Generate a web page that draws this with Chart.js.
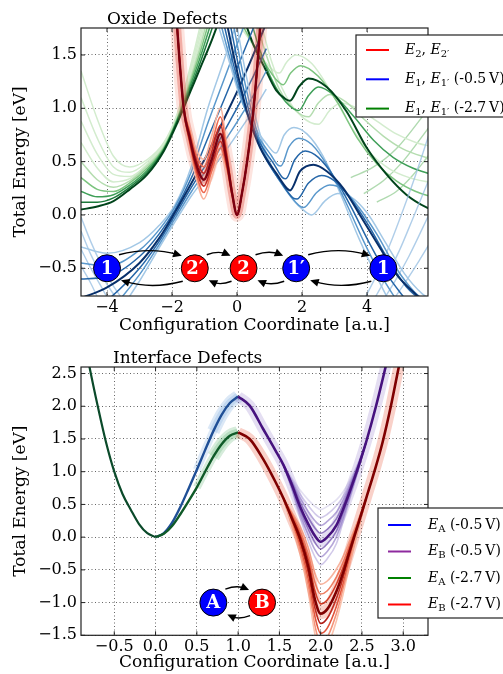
<!DOCTYPE html>
<html>
<head>
<meta charset="utf-8">
<script src="https://cdn.jsdelivr.net/npm/chart.js@4.4.1/dist/chart.umd.min.js"></script>
<style>
  html, body { margin: 0; padding: 0; background: #fff; }
  canvas { display: block; }
</style>
</head>
<body>
<canvas id="oxideChart" width="503" height="337"></canvas>
<canvas id="interfaceChart" width="503" height="337"></canvas>
<script>
// ---------------------------------------------------------------
// DATA: OXIDE DEFECTS (top panel)
// ---------------------------------------------------------------

const oxideXTicks = [-4, -2, 0, 2, 4];
const oxideYTicks = [-0.5, 0.0, 0.5, 1.0, 1.5];

// E2 / E2' double well, one row per curve (lightest .. darkest .. lightest)
const redX = [-2.0, -1.84, -1.64, -1.46, -1.28, -1.02, -0.78, -0.51, -0.31, -0.15, 0, 0.15, 0.31, 0.51, 0.71, 0.82];
const redCurves = [
  [2.5, 1.75, 0.97, 0.66, 0.38, 0.15, 0.35, 0.57, 0.40, 0.17, 0, 0.2, 0.5, 1.0, 1.75, 2.3],
  [2.5, 1.75, 0.98, 0.68, 0.42, 0.21, 0.41, 0.63, 0.43, 0.18, 0, 0.2, 0.5, 1.0, 1.75, 2.3],
  [2.5, 1.75, 0.99, 0.70, 0.46, 0.27, 0.46, 0.69, 0.46, 0.19, 0, 0.2, 0.5, 1.0, 1.75, 2.3],
  [2.5, 1.75, 1.00, 0.73, 0.50, 0.33, 0.52, 0.76, 0.50, 0.20, 0, 0.2, 0.5, 1.0, 1.75, 2.3],
  [2.5, 1.75, 1.01, 0.76, 0.54, 0.39, 0.59, 0.84, 0.54, 0.21, 0, 0.2, 0.5, 1.0, 1.75, 2.3],
  [2.5, 1.75, 1.02, 0.79, 0.58, 0.45, 0.66, 0.92, 0.58, 0.22, 0, 0.2, 0.5, 1.0, 1.75, 2.3],
  [2.5, 1.75, 1.03, 0.82, 0.63, 0.52, 0.74, 1.00, 0.62, 0.23, 0, 0.2, 0.5, 1.0, 1.75, 2.3]
];

// E1 (-0.5 V): rising branches on the left
const blueRiseX = [-4.8, -4.0, -3.0, -2.4, -1.9, -1.4, -0.9, -0.4, 0.1, 0.5, 0.9];
const blueRiseCurves = [
  [-0.30, -0.36, -0.26, -0.10, 0.10, 0.46, 1.00, 1.45, 1.90, 2.20, 2.50],
  [-0.45, -0.48, -0.33, -0.14, 0.08, 0.41, 0.86, 1.27, 1.68, 2.00, 2.30],
  [-0.60, -0.58, -0.39, -0.18, 0.05, 0.35, 0.72, 1.08, 1.45, 1.75, 2.05],
  [-0.78, -0.68, -0.45, -0.22, 0.03, 0.30, 0.58, 0.90, 1.22, 1.50, 1.80],
  [-0.95, -0.80, -0.50, -0.25, 0.00, 0.26, 0.50, 0.78, 1.06, 1.30, 1.56],
  [-1.10, -0.92, -0.56, -0.28, -0.03, 0.22, 0.44, 0.68, 0.92, 1.12, 1.35],
  [-1.25, -1.05, -0.62, -0.31, -0.06, 0.18, 0.38, 0.58, 0.80, 0.98, 1.18]
];

// E1' (-0.5 V): falling branches with the 1' well, [x, y] pairs
const blueFallCurves = [
  [[-0.65, 1.85], [-0.3, 1.5], [0.1, 1.1], [0.55, 0.82], [0.95, 0.65], [1.12, 0.59], [1.2, 0.58], [1.45, 0.75], [1.75, 0.82], [2.15, 0.76], [2.65, 0.55], [3.15, 0.22], [3.75, -0.22], [4.25, -0.55], [4.75, -0.85]],
  [[-0.55, 1.85], [-0.2, 1.45], [0.2, 1.03], [0.62, 0.75], [1.05, 0.56], [1.25, 0.47], [1.35, 0.46], [1.6, 0.64], [1.9, 0.72], [2.3, 0.66], [2.8, 0.45], [3.3, 0.15], [3.9, -0.25], [4.4, -0.55], [4.95, -0.82]],
  [[-0.45, 1.85], [-0.1, 1.4], [0.3, 0.97], [0.68, 0.69], [1.15, 0.47], [1.4, 0.35], [1.5, 0.34], [1.78, 0.52], [2.1, 0.6], [2.5, 0.54], [3.0, 0.35], [3.5, 0.08], [4.1, -0.28], [4.6, -0.55], [5.2, -0.8]],
  [[-0.35, 1.85], [0.0, 1.35], [0.35, 0.92], [0.71, 0.63], [1.23, 0.38], [1.53, 0.25], [1.63, 0.23], [1.94, 0.41], [2.35, 0.47], [2.76, 0.41], [3.27, 0.25], [3.78, 0.0], [4.4, -0.31], [4.91, -0.56], [5.52, -0.75], [5.9, -0.85]],
  [[-0.25, 1.85], [0.1, 1.32], [0.45, 0.88], [0.8, 0.58], [1.35, 0.31], [1.72, 0.16], [1.85, 0.15], [2.2, 0.3], [2.6, 0.37], [3.0, 0.32], [3.5, 0.15], [4.05, -0.1], [4.65, -0.42], [5.2, -0.67], [5.85, -0.85]],
  [[-0.15, 1.85], [0.2, 1.3], [0.55, 0.85], [0.9, 0.54], [1.5, 0.24], [1.9, 0.09], [2.05, 0.07], [2.45, 0.21], [2.85, 0.28], [3.25, 0.24], [3.75, 0.07], [4.3, -0.18], [4.9, -0.5], [5.45, -0.72], [6.0, -0.85]],
  [[-0.05, 1.85], [0.3, 1.28], [0.65, 0.82], [1.0, 0.5], [1.65, 0.17], [2.15, 0.02], [2.3, 0.0], [2.7, 0.13], [3.1, 0.2], [3.5, 0.17], [4.0, 0.02], [4.55, -0.25], [5.15, -0.55], [5.7, -0.74], [6.0, -0.8]]
];

// faint walls of the well "1" at the plot edges
const blueWallsLeft = [
  [[-4.8, -0.02], [-4.5, -0.25], [-4.2, -0.45], [-3.9, -0.62], [-3.5, -0.8]],
  [[-4.8, -0.15], [-4.5, -0.37], [-4.2, -0.55], [-3.85, -0.72], [-3.65, -0.8]],
  [[-4.8, -0.32], [-4.5, -0.5], [-4.2, -0.66], [-3.95, -0.8]],
  [[-4.8, -0.48], [-4.5, -0.64], [-4.25, -0.8]]
];
const blueWallsRight = [
  [[3.9, -0.8], [4.3, -0.56], [4.7, -0.28], [5.1, 0.04], [5.5, 0.38], [5.9, 0.75]],
  [[4.2, -0.8], [4.6, -0.58], [5.0, -0.33], [5.4, -0.04], [5.9, 0.33]],
  [[4.5, -0.8], [4.9, -0.6], [5.3, -0.38], [5.9, 0.0]],
  [[4.8, -0.8], [5.2, -0.62], [5.6, -0.43], [5.9, -0.28]]
];

// E1 (-2.7 V): rising branches on the left (darkest first)
const greenRiseX = [-4.8, -4.3, -3.8, -3.3, -2.76, -2.25, -1.84, -1.43, -1.13, -0.8, -0.4];
const greenRiseCurves = [
  [0.05, 0.08, 0.13, 0.24, 0.38, 0.60, 0.86, 1.16, 1.38, 1.62, 1.95],
  [0.12, 0.12, 0.16, 0.26, 0.40, 0.61, 0.88, 1.19, 1.43, 1.72, 2.10],
  [0.22, 0.17, 0.19, 0.28, 0.42, 0.62, 0.89, 1.22, 1.48, 1.80, 2.20],
  [0.35, 0.24, 0.22, 0.30, 0.44, 0.63, 0.90, 1.25, 1.53, 1.88, 2.30],
  [0.50, 0.33, 0.26, 0.32, 0.46, 0.64, 0.91, 1.28, 1.58, 1.96, 2.40],
  [0.68, 0.44, 0.31, 0.34, 0.47, 0.65, 0.92, 1.31, 1.63, 2.04, 2.50],
  [0.88, 0.57, 0.38, 0.36, 0.48, 0.66, 0.93, 1.34, 1.68, 2.10, 2.60],
  [1.10, 0.72, 0.45, 0.40, 0.50, 0.67, 0.94, 1.37, 1.73, 2.20, 2.70],
  [1.35, 0.90, 0.55, 0.45, 0.52, 0.68, 0.95, 1.40, 1.78, 2.25, 2.80]
];

// E1' (-2.7 V): falling branches (darkest first)
const greenFallCurves = [
  [[0.2, 1.85], [0.5, 1.6], [0.85, 1.38], [1.2, 1.17], [1.48, 1.09], [1.63, 1.07], [1.9, 1.2], [2.2, 1.28], [2.76, 1.2], [3.37, 0.97], [3.99, 0.63], [4.6, 0.38], [5.21, 0.19], [5.83, 0.07], [6.0, 0.05]],
  [[0.4, 1.85], [0.7, 1.55], [1.1, 1.25], [1.5, 1.06], [1.9, 0.98], [2.2, 1.12], [2.5, 1.2], [3.0, 1.12], [3.6, 0.92], [4.2, 0.7], [4.8, 0.54], [5.4, 0.44], [6.0, 0.38]],
  [[0.05, 1.85], [0.4, 1.65], [0.8, 1.45], [1.2, 1.27], [1.42, 1.22], [1.65, 1.33], [1.95, 1.4], [2.5, 1.3], [3.1, 1.05], [3.7, 0.72], [4.3, 0.48], [4.9, 0.32], [5.5, 0.22], [6.0, 0.17]],
  [[0.55, 1.85], [0.9, 1.5], [1.3, 1.18], [1.8, 0.98], [2.2, 0.92], [2.5, 1.05], [2.85, 1.13], [3.35, 1.06], [3.9, 0.9], [4.5, 0.74], [5.1, 0.62], [6.0, 0.52]],
  [[-0.1, 1.85], [0.3, 1.68], [0.7, 1.5], [1.1, 1.36], [1.3, 1.33], [1.52, 1.43], [1.8, 1.5], [2.3, 1.42], [2.9, 1.15], [3.5, 0.83], [4.1, 0.58], [4.7, 0.43], [5.3, 0.35], [6.0, 0.3]],
  [[0.7, 1.85], [1.05, 1.45], [1.5, 1.12], [2.0, 0.92], [2.5, 0.85], [2.85, 0.98], [3.2, 1.05], [3.7, 1.0], [4.3, 0.88], [4.9, 0.76], [5.5, 0.68], [6.0, 0.64]]
];
const greenWallsRight = [
  [[3.5, 0.35], [4.2, 0.45], [4.9, 0.62], [5.9, 1.0]],
  [[3.9, 0.2], [4.5, 0.32], [5.1, 0.5], [5.9, 0.82]],
  [[4.3, 0.12], [4.9, 0.22], [5.4, 0.37], [5.9, 0.56]]
];

// defect states drawn as discs at E = -0.5 eV
const oxideStateLabels = ['1', '2\u2032', '2', '1\u2032', '1'];
const oxideStateX = [-4.0, -1.3, 0.2, 1.82, 4.5];
const oxideStateKind = ['b', 'r', 'r', 'b', 'b'];

// ---------------------------------------------------------------
// DATA: INTERFACE DEFECTS (bottom panel)
// ---------------------------------------------------------------

const ifXTicks = [-0.5, 0.0, 0.5, 1.0, 1.5, 2.0, 2.5, 3.0];
const ifYTicks = [-1.5, -1.0, -0.5, 0.0, 0.5, 1.0, 1.5, 2.0, 2.5];

const wellAX = [-0.95, -0.8, -0.7, -0.6, -0.5, -0.4, -0.3, -0.2, -0.1, 0];
const wellAY = [3.6, 2.6, 2.0, 1.45, 1.0, 0.66, 0.42, 0.2, 0.06, 0];

const riseX = [0, 0.1, 0.2, 0.3, 0.4, 0.5, 0.6, 0.7, 0.8, 0.9, 1.0];
const eaLowV = [0, 0.06, 0.22, 0.46, 0.74, 1.03, 1.33, 1.62, 1.87, 2.05, 2.15];
const eaHighV = [0, 0.05, 0.17, 0.35, 0.55, 0.76, 1.0, 1.23, 1.42, 1.55, 1.6];

const ebLowX = [1.0, 1.14, 1.3, 1.45, 1.55, 1.65, 1.75, 1.85, 1.93, 2.0, 2.08, 2.19, 2.27, 2.35, 2.45, 2.55, 2.67, 2.79, 2.86];
const ebLowY = [2.15, 2.01, 1.66, 1.33, 1.1, 0.8, 0.47, 0.2, 0.02, -0.07, 0.0, 0.18, 0.42, 0.69, 1.05, 1.45, 2.0, 2.62, 3.0];
const ebHighX = [1.0, 1.14, 1.3, 1.45, 1.55, 1.65, 1.75, 1.85, 1.93, 2.0, 2.08, 2.19, 2.27, 2.35, 2.45, 2.55, 2.65, 2.75, 2.85, 2.95, 3.02];
const ebHighY = [1.6, 1.5, 1.2, 0.85, 0.59, 0.29, -0.02, -0.45, -0.95, -1.17, -1.1, -0.83, -0.55, -0.22, 0.18, 0.59, 1.0, 1.45, 2.0, 2.62, 3.0];

// spread of the B minimum (faint copies around the main curve)
const spreadX = [1.55, 1.65, 1.75, 1.85, 1.93, 2.0, 2.08, 2.19, 2.27, 2.35, 2.45, 2.55];
const ebLowSpread = [
  [1.1, 0.90, 0.72, 0.57, 0.47, 0.42, 0.47, 0.57, 0.69, 0.86, 1.12, 1.45],
  [1.1, 0.87, 0.66, 0.48, 0.36, 0.30, 0.35, 0.48, 0.62, 0.82, 1.11, 1.45],
  [1.1, 0.85, 0.60, 0.39, 0.25, 0.18, 0.24, 0.38, 0.56, 0.78, 1.09, 1.45],
  [1.1, 0.83, 0.54, 0.30, 0.14, 0.06, 0.12, 0.28, 0.49, 0.74, 1.07, 1.45],
  [1.1, 0.78, 0.42, 0.12, -0.08, -0.18, -0.10, 0.09, 0.36, 0.65, 1.03, 1.45],
  [1.1, 0.75, 0.36, 0.03, -0.19, -0.30, -0.22, 0.00, 0.29, 0.61, 1.02, 1.45],
  [1.1, 0.73, 0.30, -0.06, -0.30, -0.42, -0.33, -0.10, 0.23, 0.57, 1.00, 1.45]
];
const ebHighSpread = [
  [0.59, 0.38, 0.16, -0.16, -0.55, -0.72, -0.67, -0.49, -0.30, -0.06, 0.25, 0.59],
  [0.59, 0.35, 0.10, -0.26, -0.69, -0.87, -0.82, -0.61, -0.39, -0.12, 0.22, 0.59],
  [0.59, 0.32, 0.04, -0.35, -0.82, -1.02, -0.96, -0.72, -0.47, -0.17, 0.20, 0.59],
  [0.59, 0.26, -0.08, -0.55, -1.08, -1.32, -1.24, -0.94, -0.63, -0.27, 0.16, 0.59],
  [0.59, 0.23, -0.14, -0.65, -1.21, -1.47, -1.39, -1.06, -0.72, -0.33, 0.13, 0.59],
  [0.59, 0.20, -0.20, -0.74, -1.35, -1.62, -1.53, -1.17, -0.80, -0.38, 0.11, 0.59],
  [0.59, 0.17, -0.26, -0.84, -1.48, -1.77, -1.67, -1.28, -0.88, -0.43, 0.09, 0.59]
];

const ifStateLabels = ['A', 'B'];
const ifStateX = [0.70, 1.29];
const ifStateKind = ['b', 'r'];

// ---------------------------------------------------------------
// HELPERS
// ---------------------------------------------------------------

const SERIF = '"DejaVu Serif", "Liberation Serif", serif';

function line(xs, ys, color, width) {
  return {
    data: xs.map((x, i) => ({ x, y: ys[i] })),
    borderColor: color,
    borderWidth: width,
    showLine: true,
    pointRadius: 0,
    cubicInterpolationMode: 'monotone',
    clip: 0
  };
}

function pairLine(pairs, color, width) {
  return line(pairs.map((p) => p[0]), pairs.map((p) => p[1]), color, width);
}

// shade by distance from the centre curve of a family
function shade(palette, i, mid) {
  return palette[Math.min(Math.abs(i - mid), palette.length - 1)];
}

const minus = (s) => s.replace('-', '\u2212');

function axis(horizontal, min, max, ticks, digits, title, size) {
  return {
    type: 'linear',
    min,
    max,
    afterBuildTicks: (s) => { s.ticks = ticks.map((v) => ({ value: v })); },
    afterFit: (s) => { if (horizontal) s.height = size; else s.width = size; },
    grid: { color: 'rgba(0,0,0,0.6)', lineWidth: 1, drawTicks: false },
    border: { display: false, dash: [1, 2.5] },
    ticks: {
      color: '#000',
      padding: horizontal ? 2 : 4,
      font: { family: SERIF, size: 16 },
      callback: (v) => minus(Number(v).toFixed(digits))
    },
    title: {
      display: true,
      text: title,
      color: '#000',
      font: { family: SERIF, size: 17 },
      padding: horizontal ? { top: 0, bottom: 1 } : { top: 10, bottom: 0 }
    }
  };
}

function drawRuns(ctx, x, y, runs, size) {
  runs.forEach((r) => {
    let dy = 0;
    if (r.sub) { ctx.font = `${Math.round(size * 0.72)}px ${SERIF}`; dy = size * 0.3; }
    else if (r.it) ctx.font = `italic ${size}px ${SERIF}`;
    else ctx.font = `${size}px ${SERIF}`;
    ctx.fillText(r.t, x, y + dy);
    x += ctx.measureText(r.t).width;
  });
}

function arcArrow(ctx, x0, y0, x1, y1, bulge) {
  const cx = (x0 + x1) / 2;
  const cy = (y0 + y1) / 2 + bulge;
  const ang = Math.atan2(y1 - cy, x1 - cx);
  const L = 8.5, W = 4;
  ctx.beginPath();
  ctx.moveTo(x0, y0);
  ctx.quadraticCurveTo(cx, cy, x1 - 4 * Math.cos(ang), y1 - 4 * Math.sin(ang));
  ctx.stroke();
  ctx.beginPath();
  ctx.moveTo(x1, y1);
  ctx.lineTo(x1 - L * Math.cos(ang) + W * Math.sin(ang), y1 - L * Math.sin(ang) - W * Math.cos(ang));
  ctx.lineTo(x1 - L * Math.cos(ang) - W * Math.sin(ang), y1 - L * Math.sin(ang) + W * Math.cos(ang));
  ctx.closePath();
  ctx.fill();
}

// frame, inward ticks, panel title, state discs + arrows, legend
const decorPlugin = {
  id: 'decor',
  afterDatasetsDraw(chart, args, opts) {
    const { ctx, chartArea: a, scales: { x, y } } = chart;
    ctx.save();

    // frame + inward tick marks
    ctx.strokeStyle = '#222';
    ctx.lineWidth = 1.2;
    ctx.strokeRect(a.left, a.top, a.width, a.height);
    ctx.lineWidth = 1;
    ctx.beginPath();
    x.ticks.forEach((t) => {
      const px = x.getPixelForValue(t.value);
      ctx.moveTo(px, a.bottom); ctx.lineTo(px, a.bottom - 4);
      ctx.moveTo(px, a.top); ctx.lineTo(px, a.top + 4);
    });
    y.ticks.forEach((t) => {
      const py = y.getPixelForValue(t.value);
      ctx.moveTo(a.left, py); ctx.lineTo(a.left + 4, py);
      ctx.moveTo(a.right, py); ctx.lineTo(a.right - 4, py);
    });
    ctx.stroke();

    // arrows between neighbouring states
    const R = 13.5;
    const pts = opts.stateX.map((v) => ({ px: x.getPixelForValue(v), py: y.getPixelForValue(opts.stateY) }));
    ctx.strokeStyle = '#000';
    ctx.fillStyle = '#000';
    ctx.lineWidth = 1.4;
    for (let i = 0; i < pts.length - 1; i++) {
      const p = pts[i], q = pts[i + 1];
      const d = q.px - p.px;
      arcArrow(ctx, p.px + 12, p.py - 13.5, q.px - 13, q.py - 12.5, -0.1 * d);
      arcArrow(ctx, q.px - 12, q.py + 13, p.px + 14, p.py + 12, 0.1 * d);
    }

    // discs
    pts.forEach((p, i) => {
      ctx.beginPath();
      ctx.arc(p.px, p.py, R, 0, Math.PI * 2);
      ctx.fillStyle = opts.stateKind[i] === 'b' ? '#0000ff' : '#ff0000';
      ctx.fill();
      ctx.strokeStyle = '#000';
      ctx.lineWidth = 1;
      ctx.stroke();
      ctx.fillStyle = '#fff';
      ctx.font = `bold 18px ${SERIF}`;
      ctx.textAlign = 'center';
      ctx.textBaseline = 'middle';
      ctx.fillText(opts.stateLabels[i], p.px, p.py + 1);
    });

    // panel title
    ctx.textAlign = 'left';
    ctx.textBaseline = 'alphabetic';
    ctx.fillStyle = '#000';
    ctx.font = `17px ${SERIF}`;
    ctx.fillText(opts.title, opts.titleX, opts.titleY);

    // legend box
    const lg = opts.legend;
    ctx.fillStyle = '#fff';
    ctx.fillRect(lg.x, lg.y, lg.w, lg.h);
    ctx.strokeStyle = '#222';
    ctx.lineWidth = 1.2;
    ctx.strokeRect(lg.x, lg.y, lg.w, lg.h);
    lg.items.forEach((it, i) => {
      const yy = lg.y + lg.first + i * lg.step;
      ctx.strokeStyle = it.color;
      ctx.lineWidth = 2;
      ctx.beginPath();
      ctx.moveTo(lg.x + 10, yy);
      ctx.lineTo(lg.x + 33, yy);
      ctx.stroke();
      ctx.fillStyle = '#000';
      ctx.textBaseline = 'middle';
      drawRuns(ctx, lg.x + lg.textDx, yy, it.runs, 14);
    });
    ctx.restore();
  }
};

function buildChart(canvasId, datasets, cfg) {
  datasets.forEach((d, i) => { d.order = datasets.length - i; });
  return new Chart(document.getElementById(canvasId), {
    type: 'scatter',
    data: { datasets },
    options: {
      responsive: false,
      animation: false,
      devicePixelRatio: 1,
      events: [],
      layout: { padding: { top: cfg.padTop, right: 75, left: 0, bottom: 0 } },
      plugins: { legend: { display: false }, tooltip: { enabled: false }, decor: cfg.decor },
      scales: { x: cfg.x, y: cfg.y }
    },
    plugins: [decorPlugin]
  });
}

// ---------------------------------------------------------------
// TOP PANEL
// ---------------------------------------------------------------

const bluePal = ['#08306b', '#2566a8', '#5a98cc', '#a3c8e6'];
const greenPal = ['#00441b', '#1b7a3a', '#3f9f58', '#7cc47f', '#b5ddb0', '#d3ecce'];
const redPal = ['#7a0010', '#c42a22', '#ee6a50', '#f9b29c'];

const oxideSets = [];
greenWallsRight.forEach((c) => oxideSets.push(pairLine(c, 'rgba(150,205,150,0.75)', 1.4)));
for (let i = greenRiseCurves.length - 1; i >= 0; i--) {
  oxideSets.push(line(greenRiseX, greenRiseCurves[i], greenPal[Math.min(i, greenPal.length - 1)], i === 0 ? 2 : 1.5));
}
for (let i = greenFallCurves.length - 1; i >= 0; i--) {
  oxideSets.push(pairLine(greenFallCurves[i], i === 0 ? greenPal[0] : greenPal[Math.min(i + 1, 5)], i === 0 ? 2 : 1.5));
}
blueWallsLeft.concat(blueWallsRight).forEach((c) => oxideSets.push(pairLine(c, 'rgba(150,190,225,0.75)', 1.4)));
[0, 6, 1, 5, 2, 4, 3].forEach((i) => oxideSets.push(line(blueRiseX, blueRiseCurves[i], shade(bluePal, i, 3), i === 3 ? 2 : 1.5)));
[0, 6, 1, 5, 2, 4, 3].forEach((i) => oxideSets.push(pairLine(blueFallCurves[i], shade(bluePal, i, 3), i === 3 ? 2 : 1.5)));
oxideSets.push(line(redX, redCurves[3], 'rgba(245,120,95,0.2)', 14));
oxideSets.push(line(redX, redCurves[3], 'rgba(215,45,30,0.3)', 8));
[0, 6, 1, 5, 2, 4, 3].forEach((i) => oxideSets.push(line(redX, redCurves[i], shade(redPal, i, 3), i === 3 ? 2.4 : 1.6)));

buildChart('oxideChart', oxideSets, {
  padTop: 28,
  x: axis(true, -4.8, 5.875, oxideXTicks, 0, 'Configuration Coordinate [a.u.]', 41),
  y: axis(false, -0.76, 1.753, oxideYTicks, 1, 'Total Energy [eV]', 81),
  decor: {
    title: 'Oxide Defects', titleX: 107, titleY: 24,
    stateLabels: oxideStateLabels, stateX: oxideStateX, stateKind: oxideStateKind, stateY: -0.5,
    legend: {
      x: 356, y: 35, w: 160, h: 82, first: 15, step: 29.3, textDx: 49,
      items: [
        { color: '#ff0000', runs: [{ t: 'E', it: 1 }, { t: '2', sub: 1 }, { t: ', ' }, { t: 'E', it: 1 }, { t: '2\u2032', sub: 1 }] },
        { color: '#0000ff', runs: [{ t: 'E', it: 1 }, { t: '1', sub: 1 }, { t: ', ' }, { t: 'E', it: 1 }, { t: '1\u2032', sub: 1 }, { t: ' (-0.5\u2009V)' }] },
        { color: '#008000', runs: [{ t: 'E', it: 1 }, { t: '1', sub: 1 }, { t: ', ' }, { t: 'E', it: 1 }, { t: '1\u2032', sub: 1 }, { t: ' (-2.7\u2009V)' }] }
      ]
    }
  }
});

// ---------------------------------------------------------------
// BOTTOM PANEL
// ---------------------------------------------------------------

const purpleSpreadCols = ['rgba(175,165,215,0.35)', 'rgba(140,120,200,0.4)', 'rgba(110,80,180,0.5)', 'rgba(80,40,150,0.6)',
  'rgba(80,40,150,0.6)', 'rgba(110,80,180,0.5)', 'rgba(140,120,200,0.4)'];
const redSpreadCols = ['#f8b49e', '#ee8064', '#c8321f', '#b01e18', '#e0553c', '#f4937a', '#fbc3ae'];

const ifSets = [];
ifSets.push(line(riseX.slice(5), eaLowV.slice(5), 'rgba(90,150,215,0.2)', 8));
ifSets.push(line(riseX.slice(7), eaLowV.slice(7), 'rgba(90,150,215,0.22)', 13));
ifSets.push(line(riseX, eaLowV, '#1f4f96', 2.4));
ifSets.push(line(riseX.slice(5), eaHighV.slice(5), 'rgba(70,170,90,0.22)', 8));
ifSets.push(line(riseX.slice(7), eaHighV.slice(7), 'rgba(70,170,90,0.22)', 13));
ifSets.push(line(riseX, eaHighV, '#0f5a28', 2.4));
ifSets.push(line(wellAX, wellAY, '#0b4a2a', 2.2));
ebLowSpread.forEach((ys, i) => ifSets.push(line(spreadX, ys, purpleSpreadCols[i], 1.6)));
ifSets.push(line(ebLowX, ebLowY, 'rgba(120,90,190,0.2)', 11));
ifSets.push(line(ebLowX, ebLowY, '#46127e', 2.6));
ebHighSpread.forEach((ys, i) => ifSets.push(line(spreadX, ys, redSpreadCols[i], 1.6)));
ifSets.push(line(ebHighX, ebHighY, 'rgba(235,90,60,0.28)', 11));
ifSets.push(line(ebHighX, ebHighY, '#7f0000', 2.6));

buildChart('interfaceChart', ifSets, {
  padTop: 30,
  x: axis(true, -0.903, 3.3, ifXTicks, 1, 'Configuration Coordinate [a.u.]', 38.7),
  y: axis(false, -1.5, 2.6, ifYTicks, 1, 'Total Energy [eV]', 81),
  decor: {
    title: 'Interface Defects', titleX: 113, titleY: 26,
    stateLabels: ifStateLabels, stateX: ifStateX, stateKind: ifStateKind, stateY: -1.0,
    legend: {
      x: 378, y: 171, w: 140, h: 110, first: 17, step: 26.5, textDx: 50,
      items: [
        { color: '#0000ff', runs: [{ t: 'E', it: 1 }, { t: 'A', sub: 1 }, { t: ' (-0.5\u2009V)' }] },
        { color: '#8e2a9e', runs: [{ t: 'E', it: 1 }, { t: 'B', sub: 1 }, { t: ' (-0.5\u2009V)' }] },
        { color: '#008000', runs: [{ t: 'E', it: 1 }, { t: 'A', sub: 1 }, { t: ' (-2.7\u2009V)' }] },
        { color: '#ff0000', runs: [{ t: 'E', it: 1 }, { t: 'B', sub: 1 }, { t: ' (-2.7\u2009V)' }] }
      ]
    }
  }
});
</script>
</body>
</html>
